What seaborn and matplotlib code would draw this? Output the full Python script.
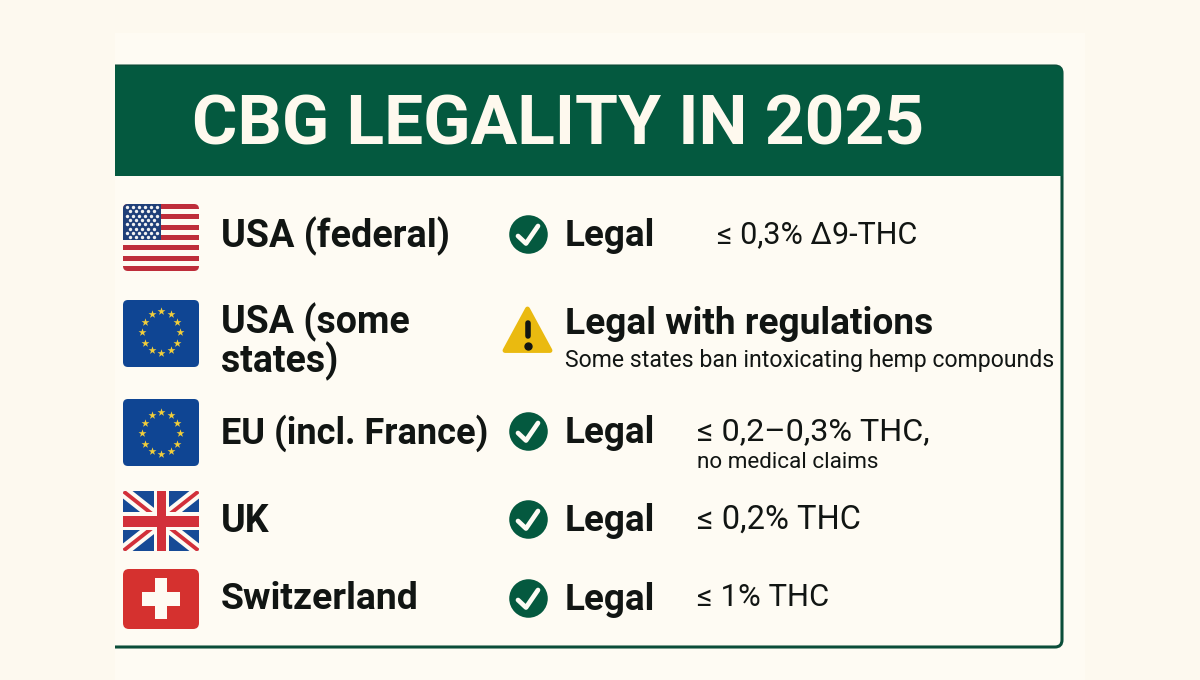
import numpy as np
import pandas as pd
import seaborn as sns
import matplotlib
matplotlib.use("Agg")
import matplotlib.pyplot as plt
from matplotlib.patches import FancyBboxPatch, Rectangle, Polygon, PathPatch
from matplotlib.path import Path

# ---- content ----
title = "CBG LEGALITY IN 2025"
countries = ["USA (federal)", "USA (some\nstates)", "EU (incl. France)", "UK", "Switzerland"]
flags = ["us", "eu", "eu", "uk", "ch"]
statuses = ["Legal", "Legal with regulations", "Legal", "Legal", "Legal"]
limits = ["≤ 0,3% Δ9-THC", "", "≤ 0,2–0,3% THC,", "≤ 0,2% THC", "≤ 1% THC"]
notes = ["", "Some states ban intoxicating hemp compounds", "no medical claims", "", ""]

# ---- colours ----
PAGE = "#FDF9EF"
PANEL = "#FEFBF3"
GREEN = "#04593F"
INK = "#111513"
YELLOW = "#EABA10"
RED_US = "#BE2D3A"
BLUE_US = "#1F3F78"
BLUE_EU = "#0F4593"
STAR = "#F2CE3A"
BLUE_UK = "#164A96"
RED_UK = "#D2303A"
RED_CH = "#D5312F"

sns.set_theme(style="white", rc={"figure.facecolor": PAGE, "axes.facecolor": PAGE})
plt.rcParams["font.family"] = ["Roboto", "DejaVu Sans"]

fig = plt.figure(figsize=(12, 6.8), dpi=100)
ax = fig.add_axes([0, 0, 1, 1])
ax.set_xlim(0, 1200)
ax.set_ylim(680, 0)
ax.axis("off")

# ---- panel ----
ax.add_patch(Rectangle((115, 33), 970, 647, fc=PANEL, ec="none", zorder=0))
frame = Path([(115, 66), (1055, 66), (1062, 66), (1062, 73), (1062, 640), (1062, 647), (1055, 647), (115, 647)],
             [Path.MOVETO, Path.LINETO, Path.CURVE3, Path.CURVE3, Path.LINETO, Path.CURVE3, Path.CURVE3, Path.LINETO])
ax.add_patch(PathPatch(frame, fc="none", ec="#0B4D39", lw=2.2, zorder=1))
head = Path([(115, 66), (1056, 66), (1063, 66), (1063, 73), (1063, 176), (115, 176), (115, 66)],
            [Path.MOVETO, Path.LINETO, Path.CURVE3, Path.CURVE3, Path.LINETO, Path.LINETO, Path.CLOSEPOLY])
ax.add_patch(PathPatch(head, fc=GREEN, ec="none", zorder=2))
ax.text(192, 126, title, color="#FEF9EE", fontsize=50, fontweight="bold", va="center", ha="left", zorder=3)


# ---- flags ----
def rounded(x0, y0, x1, y1, color, r=5):
    p = FancyBboxPatch((x0 + r, y0 + r), x1 - x0 - 2 * r, y1 - y0 - 2 * r,
                       boxstyle=f"round,pad={r},rounding_size={r}", fc=color, ec="none", zorder=2)
    ax.add_patch(p)
    return p


def star_ring(cx, cy):
    ang = np.arange(12) * np.pi / 6
    d = pd.DataFrame({"x": cx + 19 * np.sin(ang), "y": cy - 21 * np.cos(ang)})
    sns.scatterplot(data=d, x="x", y="y", marker="*", s=36, color=STAR, linewidth=0, ax=ax, zorder=4, legend=False)


def draw_us(y0):
    clip = rounded(123, y0, 199, y0 + 67, PANEL)
    h = 67 / 13
    for i in range(0, 13, 2):
        r = Rectangle((123, y0 + i * h), 76, h, fc=RED_US, ec="none", zorder=3)
        ax.add_patch(r)
        r.set_clip_path(clip)
    r = Rectangle((123, y0), 38, 36, fc=BLUE_US, ec="none", zorder=3.5)
    ax.add_patch(r)
    r.set_clip_path(clip)
    xs, ys = [], []
    for row in range(8):
        for col in range(6 if row % 2 == 0 else 5):
            xs.append(127 + col * 6.0 + (0 if row % 2 == 0 else 3))
            ys.append(y0 + 3 + row * 4.3)
    d = pd.DataFrame({"x": xs, "y": ys})
    sns.scatterplot(data=d, x="x", y="y", marker="o", s=6, color="#F2F2F2", linewidth=0, ax=ax, zorder=4, legend=False)


def draw_eu(y0, cy):
    rounded(123, y0, 199, y0 + 67, BLUE_EU)
    star_ring(161, cy)


def draw_uk(y0):
    clip = rounded(123, y0, 199, y0 + 60, BLUE_UK, r=2)
    x0, x1, y1 = 123, 199, y0 + 60
    ym = y0 + 30
    for a, b in [((x0, y0), (x1, y1)), ((x0, y1), (x1, y0))]:
        l, = ax.plot([a[0], b[0]], [a[1], b[1]], color=PANEL, lw=8.5, zorder=3, solid_capstyle="butt")
        l.set_clip_path(clip)
        l, = ax.plot([a[0], b[0]], [a[1], b[1]], color=RED_UK, lw=2.8, zorder=3.2, solid_capstyle="butt")
        l.set_clip_path(clip)
    ax.add_patch(Rectangle((154, y0), 15, 60, fc=PANEL, ec="none", zorder=3.4))
    ax.add_patch(Rectangle((123, ym - 9), 76, 18, fc=PANEL, ec="none", zorder=3.4))
    ax.add_patch(Rectangle((157, y0), 9, 60, fc=RED_UK, ec="none", zorder=3.6))
    ax.add_patch(Rectangle((123, ym - 5.5), 76, 11, fc=RED_UK, ec="none", zorder=3.6))


def draw_ch(y0):
    rounded(123, y0, 199, y0 + 60, RED_CH, r=6)
    ax.add_patch(Rectangle((155, y0 + 9), 11.5, 41, fc=PANEL, ec="none", zorder=3))
    ax.add_patch(Rectangle((142, y0 + 23), 38, 14, fc=PANEL, ec="none", zorder=3))


draw_us(204)
draw_eu(300, 332)
draw_eu(399, 433)
draw_uk(491)
draw_ch(569)

# ---- row text ----
name_y = [236, 342, 433, 521, 599]
name_size = [27.2, 27, 26, 27, 26.9]
status_y = [236, 324, 433, 521, 600]
status_size = [26.5, 26.7, 26.5, 26.5, 26.5]
limit_x = [717, None, 697, 697, 697]
limit_y = [235, None, 432, 520, 598]
limit_size = [22, None, 23.3, 23.5, 22.3]
note_x = [None, 565, 697, None, None]
note_y = [None, 361, 463, None, None]
note_size = [None, 16.6, 16.2, None, None]

for i in range(5):
    ax.text(221, name_y[i], countries[i], color=INK, fontsize=name_size[i], fontweight="bold", va="center", ha="left",
            linespacing=1.0, zorder=3)
    ax.text(565, status_y[i], statuses[i], color=INK, fontsize=status_size[i], fontweight="bold", va="center", ha="left", zorder=3)
    if limits[i]:
        ax.text(limit_x[i], limit_y[i], limits[i], color=INK, fontsize=limit_size[i], va="center", ha="left", zorder=3)
    if notes[i]:
        ax.text(note_x[i], note_y[i], notes[i], color=INK, fontsize=note_size[i], va="center", ha="left", zorder=3)

# ---- status icons ----
status_df = pd.DataFrame({"status": statuses, "x": 527.5, "y": [234, 330, 431, 519, 598]})
legal = status_df[status_df["status"] == "Legal"]
sns.scatterplot(data=legal, x="x", y="y", marker="o", s=770, color=GREEN, linewidth=0, ax=ax, zorder=3, legend=False)
for y in legal["y"]:
    ax.plot([518, 526, 538], [y + 2, y + 9.5, y - 8], color="#FDFBF4", lw=3.4, zorder=4,
            solid_capstyle="round", solid_joinstyle="round")

tri = Polygon([(527.5, 309), (550, 350.5), (505, 350.5)], closed=True, fc=YELLOW, ec=YELLOW, lw=3.5, joinstyle="round", zorder=3)
ax.add_patch(tri)
ax.plot([527.5, 527.5], [323, 336], color=INK, lw=4, solid_capstyle="round", zorder=4)
ax.plot([527.5], [346], "o", color=INK, ms=5, zorder=4)

fig.savefig("out.png", dpi=100, facecolor=PAGE)
